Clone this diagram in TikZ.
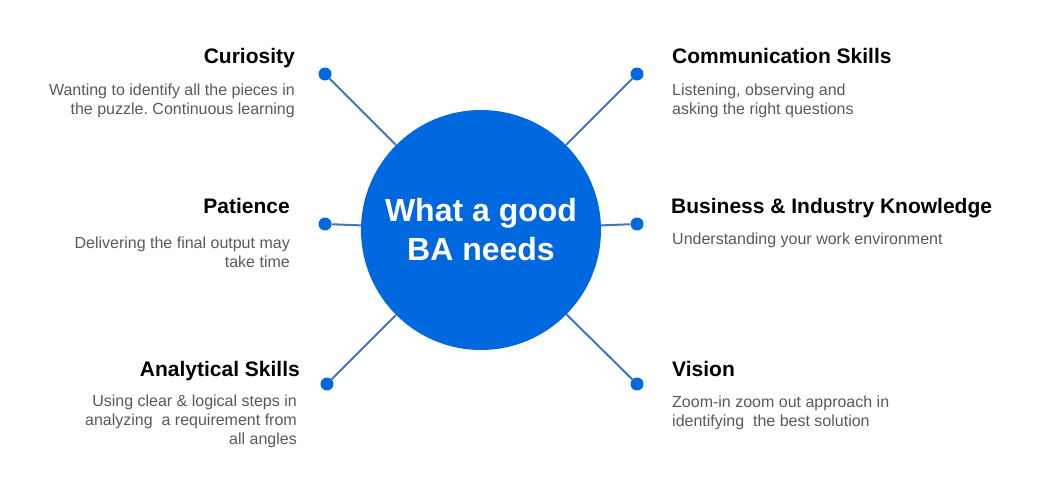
\documentclass[tikz,border=0pt]{standalone}
\usepackage{fontspec}
\setmainfont{Liberation Sans}
\usepackage{xcolor}
\usetikzlibrary{positioning}
\frenchspacing

\definecolor{bablue}{RGB}{0,104,222}
\definecolor{linkblue}{RGB}{68,114,196}
\definecolor{descgray}{RGB}{89,89,89}

\begin{document}
\begin{tikzpicture}[
  x=1pt, y=-1pt,
  hub/.style={circle, fill=bablue, minimum size=240pt, inner sep=0, align=center, text=white,
    font=\bfseries\fontsize{32}{39}\selectfont},
  dot/.style={circle, fill=bablue, minimum size=13pt, inner sep=0},
  link/.style={draw=linkblue, line width=2pt},
  title/.style={inner sep=0, font=\bfseries\fontsize{21}{25}\selectfont},
  desc/.style={inner sep=0, text=descgray, font=\fontsize{16}{19}\selectfont}
]
  \useasboundingbox (0,0) rectangle (1053,490);

  \node[hub] (hub) at (481,230) {What a good\\BA needs};

  \node[dot] (curdot) at (325,74) {};
  \node[dot] (comdot) at (637,74) {};
  \node[dot] (patdot) at (325,224) {};
  \node[dot] (busdot) at (637,224) {};
  \node[dot] (anadot) at (327,384) {};
  \node[dot] (visdot) at (637,384) {};

  \foreach \d in {curdot, comdot, patdot, busdot, anadot, visdot}
    \draw[link] (\d) -- (hub);

  % left column (descriptions hang from the top of their first line)
  \node[title, anchor=base east] (cur) at (295,63) {Curiosity};
  \node[desc, anchor=north east, align=right] (curtxt) at (295,81.7)
    {\strut Wanting to identify all the pieces in\\the puzzle. Continuous learning};
  \node[title, anchor=base east] (pat) at (290,213) {Patience};
  \node[desc, anchor=north east, align=right] (pattxt) at (290,234.7)
    {\strut Delivering the final output may\\take time};
  \node[title, anchor=base east] (ana) at (300,376) {Analytical Skills};
  \node[desc, anchor=north east, align=right] (anatxt) at (297,392.7)
    {\strut Using clear \& logical steps in\\analyzing\ \ a requirement from\\all angles};

  % right column
  \node[title, anchor=base west] (com) at (672,63) {Communication Skills};
  \node[desc, anchor=north west, align=left] (comtxt) at (672,81.7)
    {\strut Listening, observing and\\asking the right questions};
  \node[title, anchor=base west] (bus) at (671,213) {Business \& Industry Knowledge};
  \node[desc, anchor=north west, align=left] (bustxt) at (672,230.7)
    {\strut Understanding your work environment};
  \node[title, anchor=base west] (vis) at (672,376) {Vision};
  \node[desc, anchor=north west, align=left] (vistxt) at (672,393.7)
    {\strut Zoom-in zoom out approach in\\identifying\ \ the best solution};
\end{tikzpicture}
\end{document}
